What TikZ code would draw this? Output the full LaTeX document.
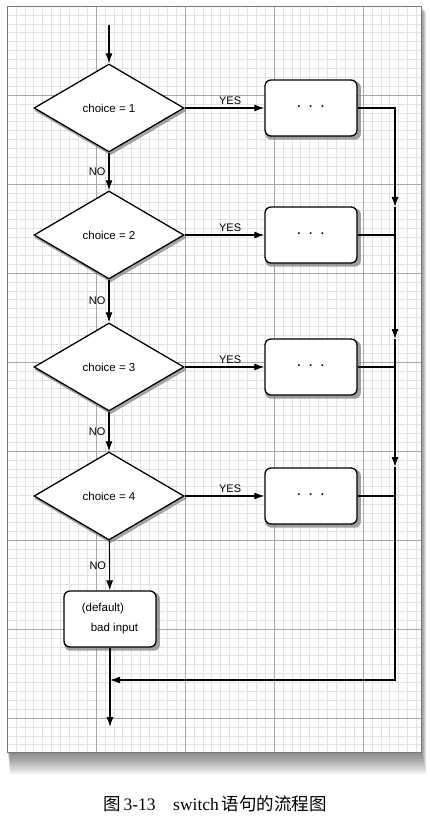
\documentclass[tikz,border=0pt]{standalone}
\usepackage{fontspec}
\setmainfont{Liberation Sans}
\newfontfamily\capserif{Liberation Serif}
\newfontfamily\cjk{Noto Sans CJK SC}
\usetikzlibrary{positioning,shapes.geometric,arrows.meta,shadows}
\definecolor{gridMinor}{RGB}{226,226,226}
\definecolor{gridMajor}{RGB}{168,168,168}
\definecolor{paperEdge}{RGB}{120,120,120}
\tikzset{
  flow/.style={draw, line width=1.1pt, -{Latex[length=10pt,width=7pt]}},
  link/.style={draw, line width=1.1pt},
  test/.style={diamond, draw, line width=1.3pt, fill=white, minimum width=150pt,
    minimum height=88pt, inner sep=0pt,
    drop shadow={shadow xshift=1.5pt, shadow yshift=-2.5pt, opacity=0.7, shadow scale=1.02}},
  action/.style={rectangle, rounded corners=6pt, draw, line width=1.3pt, fill=white,
    minimum width=92pt, minimum height=56pt,
    drop shadow={shadow xshift=2pt, shadow yshift=-2.5pt, opacity=0.75, shadow scale=1.04}},
  lbl/.style={font=\fontsize{11pt}{13pt}\selectfont, inner sep=3pt}
}
\begin{document}
\begin{tikzpicture}[x=1pt, y=-1pt, font=\fontsize{11.5pt}{13pt}\selectfont]
\useasboundingbox (0,0) rectangle (429,818);
% paper and its shadow
\foreach \s in {1,...,10}
  \fill[black, opacity=0.06] (7+0.3*\s,6+0.6*\s) rectangle (421+0.5*\s,752+2.2*\s);
\fill[white] (7,6) rectangle (421,752);
% grid
\foreach \k in {1,...,46}{
  \pgfmathsetmacro\gx{7+8.9*\k}
  \draw[gridMinor, line width=0.5pt] (\gx,6) -- (\gx,752);
}
\foreach \k in {1,...,83}{
  \pgfmathsetmacro\gy{6+8.9*\k}
  \draw[gridMinor, line width=0.5pt] (7,\gy) -- (421,\gy);
}
\foreach \gx in {96,185,274,363}
  \draw[gridMajor, line width=0.6pt] (\gx,6) -- (\gx,752);
\foreach \gy in {95,184,273,362,451,540,629,718}
  \draw[gridMajor, line width=0.6pt] (7,\gy) -- (421,\gy);
\draw[paperEdge, line width=0.8pt] (7,6) rectangle (421,752);
% tests and cases
\foreach \i/\y in {1/108, 2/235, 3/367, 4/496}{
  \node[test] (d\i) at (109,\y) {choice = \i};
  \node[action] (b\i) at (311,\y) {\textbf{\textperiodcentered\hspace{8pt}\textperiodcentered\hspace{8pt}\textperiodcentered}};
  \draw[flow] (d\i) -- node[lbl, pos=0.57, above] {YES} (b\i);
}
\node[action, align=left] (bad) at (110,619) {(default)\\[7pt]\hspace*{9pt}bad input};
\coordinate (start) at (109,25);
\coordinate (t2) at (395,207);
\coordinate (t3) at (395,339);
\coordinate (t4) at (395,467);
\coordinate (join) at (110,680);
\coordinate (stop) at (110,727);
% main line
\draw[flow] (start) -- (d1);
\foreach \i/\j in {1/2, 2/3, 3/4}
  \draw[flow] (d\i) -- node[lbl, left] {NO} (d\j);
\draw[flow] (d4) -- node[lbl, left] {NO} (bad);
\draw[flow] (bad) -- (stop);
% rail back to the exit
\draw[flow] (b1.east) -| (t2);
\draw[flow] (t2) -- (t3);
\draw[flow] (t3) -- (t4);
\draw[flow] (t4) |- (join);
\foreach \i in {2,3,4}
  \draw[link] (b\i.east) -- (b\i.east -| t2);
% caption
\node[font=\fontsize{17.5pt}{20pt}\selectfont] (cap) at (215,804)
  {\cjk 图\,\capserif 3-13\quad switch\,\cjk 语句的流程图};
\end{tikzpicture}
\end{document}
